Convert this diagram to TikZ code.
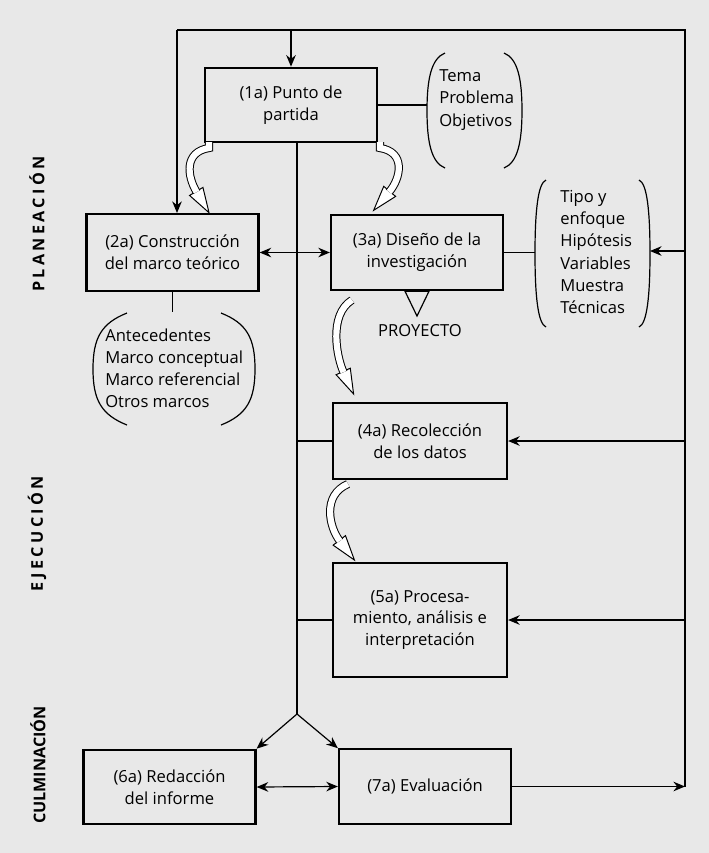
\documentclass[tikz,border=0pt]{standalone}
\usepackage{fontspec}
\setmainfont{Open Sans}
\usetikzlibrary{arrows.meta,shapes.geometric}

\tikzset{
  paso/.style={draw, line width=1.6pt, minimum width=43mm, minimum height=18.6mm,
    align=center, inner sep=2pt, font=\fontsize{11.8}{15.5}\selectfont},
  lista/.style={align=left, inner sep=0pt, font=\fontsize{11.8}{15.7}\selectfont},
  fase/.style={rotate=90, inner sep=0pt, font=\fontsize{11.5}{13}\selectfont\bfseries},
  linea/.style={line width=0.85pt},
  parentesis/.style={line width=0.85pt},
  banda/.style={line width=0.7pt, double=white, double distance=4.4pt, shorten >=-0.9pt},
  cabeza/.style={isosceles triangle, isosceles triangle stretches, shape border rotate=0,
    draw, fill=white, line width=0.7pt, minimum width=3.9mm, minimum height=6.2mm,
    inner sep=0pt, anchor=west, sloped, allow upside down, pos=1},
}

% flecha hueca curva: nombre, inicio, control 1, control 2, fin
\newcommand{\flechacurva}[5]{%
  \path #2 .. controls #3 and #4 .. #5 node[cabeza] (#1) {};
  \draw[banda] #2 .. controls #3 and #4 .. #5;
}

% par de parentesis: izquierda, derecha, arriba, abajo, entrada
\newcommand{\corchetes}[5]{%
  \draw[parentesis] ({#1+#5},#3) .. controls ({#1+0.25*#5},{#3+0.3*#5}) and (#1,{#3+0.22*(#4-#3)}) .. (#1,{0.5*(#3+#4)})
    .. controls (#1,{#4-0.22*(#4-#3)}) and ({#1+0.25*#5},{#4-0.3*#5}) .. ({#1+#5},#4);
  \draw[parentesis] ({#2-#5},#3) .. controls ({#2-0.25*#5},{#3+0.3*#5}) and (#2,{#3+0.22*(#4-#3)}) .. (#2,{0.5*(#3+#4)})
    .. controls (#2,{#4-0.22*(#4-#3)}) and ({#2-0.25*#5},{#4-0.3*#5}) .. ({#2-#5},#4);
}

\begin{document}
\begin{tikzpicture}[x=0.25mm, y=-0.25mm, >={Stealth[length=2.9mm, width=2.4mm]}]
        % Fondo
        \fill[black!9] (0,0) rectangle (709,853);

        % Fases
        \node[fase] (plan) at (37,224) {\addfontfeature{LetterSpace=21}PLANEACIÓN};
        \node[fase] (ejec) at (37,534) {\addfontfeature{LetterSpace=21}EJECUCIÓN};
        \node[fase] (culm) at (38,765) {CULMINACIÓN};

        % Pasos
        \node[paso] (p1) at (291,105) {(1a) Punto de\\partida};
        \node[paso, minimum height=19.2mm] (p2) at (172.5,252.5) {(2a) Construcción\\del marco teórico};
        \node[paso, minimum height=18.8mm] (p3) at (417,252.5) {(3a) Diseño de la\\investigación};
        \node[paso, minimum width=43.5mm, minimum height=19mm] (p4) at (420,441) {(4a) Recolección\\de los datos};
        \node[paso, minimum width=43.5mm, minimum height=28.5mm] (p5) at (420,620) {(5a) Procesa-\\miento, análisis e\\interpretación};
        \node[paso] (p6) at (169.5,787) {(6a) Redacción\\del informe};
        \node[paso] (p7) at (425,786.5) {(7a) Evaluación};

        % Listas entre parentesis
        \node[lista, anchor=west] (tema) at (439,100) {Tema\\Problema\\Objetivos};
        \corchetes{427}{522}{53}{168}{18}
        \node[lista, anchor=west] (tipo) at (560,252) {Tipo y\\enfoque\\Hipótesis\\Variables\\Muestra\\Técnicas};
        \corchetes{535}{650}{180}{327}{11}
        \node[lista, anchor=west] (ante) at (105,368) {Antecedentes\\Marco conceptual\\Marco referencial\\Otros marcos};
        \corchetes{93}{255}{313}{425}{34}

        \coordinate (temaI) at (427,110.5);
        \coordinate (tipoI) at (535,253.5);
        \coordinate (tipoD) at (650,251);
        \coordinate (anteN) at (174,312);

        % Proyecto
        \draw[linea] ([xshift=-3mm]p3.south) -- ([xshift=3mm]p3.south) -- ([yshift=-6.2mm]p3.south) -- cycle;
        \node[lista] (proy) at (420,331) {PROYECTO};

        % Lazo de retorno
        \coordinate (esq) at (685,786.5);
        \coordinate (supD) at (685,30);
        \coordinate (supI) at (177,30);
        \draw[linea, ->] (p7.east) -- (esq);
        \draw[linea] (esq) -- (supD) -- (supI);
        \draw[linea, ->] (supI) -- (supI |- p2.north);
        \draw[linea, ->] (p1.north |- supI) -- (p1.north);
        \draw[linea, ->] (esq |- tipoD) -- (tipoD);
        \draw[linea, ->] (esq |- p4.east) -- (p4.east);
        \draw[linea, ->] (esq |- p5.east) -- (p5.east);

        % Eje central
        \coordinate (cruce) at (297,714);
        \draw[linea] (p1.south -| cruce) -- (cruce);
        \draw[linea] (cruce |- p4.west) -- (p4.west);
        \draw[linea] (cruce |- p5.west) -- (p5.west);
        \draw[linea, ->] (cruce) -- (p6.north east);
        \draw[linea, ->] (cruce) -- (p7.north west);

        % Uniones
        \draw[linea, <->] (p2.east) -- (p3.west);
        \draw[linea, <->] (p6.east) -- (p7.west);
        \draw[linea] (p1.east) -- (p1.east -| temaI);
        \draw[linea] (p3.east) -- (p3.east -| tipoI);
        \draw[linea] (p2.south) -- (p2.south |- anteN);

        % Flechas curvas
        \flechacurva{c1}{(209,142) -- (209,148)}{(184,152)}{(187,176)}{(196,191)}
        \flechacurva{c2}{(380,142) -- (380,148)}{(406,152)}{(401,178)}{(390,191)}
        \flechacurva{c3}{(352,300)}{(328,315)}{(337,358)}{(343,371)}
        \flechacurva{c4}{(348,484)}{(322,495)}{(329,527)}{(339,540)}
    \end{tikzpicture}
\end{document}
